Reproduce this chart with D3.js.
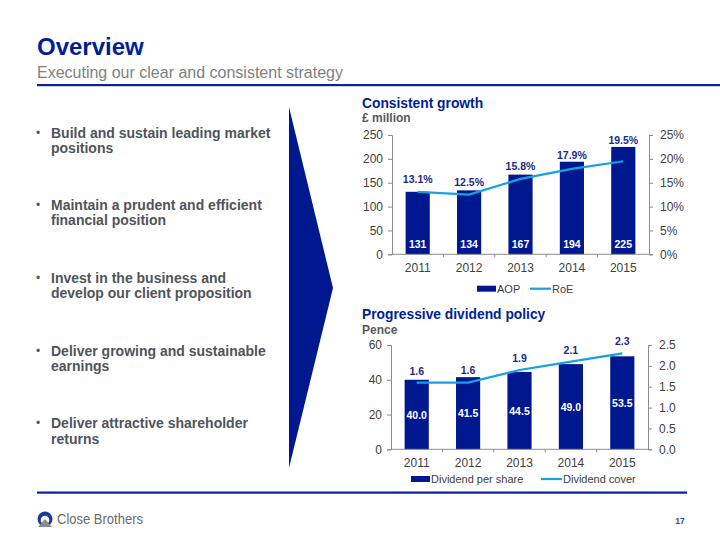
<!DOCTYPE html>
<html>
<head>
<meta charset="utf-8">
<script src="https://cdn.jsdelivr.net/npm/d3@7"></script>
<style>
  html, body { margin: 0; padding: 0; background: #fff; }
  svg { display: block; font-family: Arial, "Liberation Sans", sans-serif; }
</style>
</head>
<body>
<svg id="chart" width="720" height="540"></svg>
<script>
// ---------- data ----------
const years = ["2011", "2012", "2013", "2014", "2015"];
const aop = [131, 134, 167, 194, 225];          // £ million
const roe = [13.1, 12.5, 15.8, 17.9, 19.5];     // %
const dividendPerShare = [40.0, 41.5, 44.5, 49.0, 53.5]; // pence
const dividendCover = [1.6, 1.6, 1.9, 2.1, 2.3];
const growthLeftTicks = [0, 50, 100, 150, 200, 250];
const growthRightTicks = [0, 5, 10, 15, 20, 25];
const divLeftTicks = [0, 20, 40, 60];
const divRightTicks = [0, 0.5, 1.0, 1.5, 2.0, 2.5];
const bullets = [
  ["Build and sustain leading market", "positions"],
  ["Maintain a prudent and efficient", "financial position"],
  ["Invest in the business and", "develop our client proposition"],
  ["Deliver growing and sustainable", "earnings"],
  ["Deliver attractive shareholder", "returns"]
];

const NAVY = "#00188f";
const TITLE_BLUE = "#001e96";
const LINE_BLUE = "#17a0e2";
const LABEL_BLUE = "#1a2a8c";
const GRAY_TEXT = "#595959";
const AXIS = "#8c8c8c";

const svg = d3.select("#chart");

// ---------- header ----------
svg.append("text").attr("x", 37).attr("y", 55)
  .attr("font-size", 24).attr("font-weight", "bold").attr("fill", TITLE_BLUE)
  .text("Overview");
svg.append("text").attr("x", 37).attr("y", 78)
  .attr("font-size", 16).attr("fill", "#7f7f7f")
  .text("Executing our clear and consistent strategy");
svg.append("rect").attr("x", 37).attr("y", 84).attr("width", 683).attr("height", 2.2).attr("fill", "#0a1ea0");

// ---------- bullets ----------
const bulletBase = [137.5, 210, 282.7, 355.7, 428.3];
bullets.forEach((lines, i) => {
  svg.append("text").attr("x", 36).attr("y", bulletBase[i] - 1)
    .attr("font-size", 12).attr("fill", GRAY_TEXT).text("•");
  lines.forEach((ln, j) => {
    svg.append("text").attr("x", 51).attr("y", bulletBase[i] + j * 15.3)
      .attr("font-size", 14).attr("font-weight", "bold").attr("fill", "#50545a")
      .text(ln);
  });
});

// ---------- arrow ----------
svg.append("polygon").attr("points", "289,107 333,288 289,468").attr("fill", NAVY);

// ---------- chart builder ----------
function drawChart(cfg) {
  const g = svg.append("g");
  const x = d3.scaleBand().domain(years).range([cfg.x0, cfg.x1]).paddingInner(0.53).paddingOuter(0.265);
  const yL = d3.scaleLinear().domain(cfg.leftDomain).range([cfg.yBottom, cfg.yTop]);
  const yR = d3.scaleLinear().domain(cfg.rightDomain).range([cfg.yBottom, cfg.yTop]);

  // titles
  g.append("text").attr("x", 362).attr("y", cfg.titleY)
    .attr("font-size", 13.8).attr("font-weight", "bold").attr("fill", TITLE_BLUE).text(cfg.title);
  g.append("text").attr("x", 362).attr("y", cfg.unitY)
    .attr("font-size", 12).attr("font-weight", "bold").attr("fill", GRAY_TEXT).text(cfg.unit);

  // bars
  g.selectAll("rect.bar").data(cfg.bars).join("rect").attr("class", "bar")
    .attr("x", (d, i) => x(years[i])).attr("width", x.bandwidth())
    .attr("y", d => yL(d)).attr("height", d => cfg.yBottom - yL(d))
    .attr("fill", NAVY);

  // axes
  const left = d3.axisLeft(yL).tickValues(cfg.leftTicks).tickSize(4).tickPadding(5).tickFormat(cfg.leftFmt);
  const right = d3.axisRight(yR).tickValues(cfg.rightTicks).tickSize(4).tickPadding(7).tickFormat(cfg.rightFmt);
  [g.append("g").attr("transform", `translate(${cfg.x0},0)`).call(left),
   g.append("g").attr("transform", `translate(${cfg.x1},0)`).call(right)].forEach(a => {
    a.select(".domain").attr("stroke", AXIS);
    a.selectAll(".tick line").attr("stroke", AXIS);
    a.selectAll(".tick text").attr("font-size", 12).attr("fill", "#404040").attr("font-family", "Arial, 'Liberation Sans', sans-serif");
  });
  // x axis: baseline and ticks between categories
  g.append("line").attr("x1", cfg.x0).attr("x2", cfg.x1).attr("y1", cfg.yBottom).attr("y2", cfg.yBottom).attr("stroke", AXIS);
  const step = x.step();
  years.forEach((yr, i) => {
    if (i > 0) {
      const bx = x(yr) - x.paddingInner() * step / 2 - (x.bandwidth() * 0);
      const tx = cfg.x0 + i * (cfg.x1 - cfg.x0) / years.length;
      g.append("line").attr("x1", tx).attr("x2", tx).attr("y1", cfg.yBottom).attr("y2", cfg.yBottom + 3).attr("stroke", AXIS);
    }
    g.append("text").attr("x", x(yr) + x.bandwidth() / 2).attr("y", cfg.yBottom + 18)
      .attr("text-anchor", "middle").attr("font-size", 12).attr("fill", "#404040").text(yr);
  });

  // line
  const line = d3.line().x((d, i) => x(years[i]) + x.bandwidth() / 2).y(d => yR(d));
  g.append("path").datum(cfg.line).attr("d", line).attr("fill", "none")
    .attr("stroke", LINE_BLUE).attr("stroke-width", 2.2);

  // bar value labels
  g.selectAll("text.val").data(cfg.bars).join("text").attr("class", "val")
    .attr("x", (d, i) => x(years[i]) + x.bandwidth() / 2)
    .attr("y", d => cfg.valInside === "bottom" ? cfg.yBottom - 6 : (yL(d) + cfg.yBottom) / 2 + 4)
    .attr("text-anchor", "middle").attr("font-size", 10.5).attr("font-weight", "bold").attr("fill", "#fff")
    .text(d => cfg.valFmt(d));

  // line value labels
  g.selectAll("text.lv").data(cfg.line).join("text").attr("class", "lv")
    .attr("x", (d, i) => x(years[i]) + x.bandwidth() / 2)
    .attr("y", (d, i) => Math.min(yR(d) - cfg.lineOff, yL(cfg.bars[i]) - 7) + 4)
    .attr("text-anchor", "middle").attr("font-size", 10.5).attr("font-weight", "bold").attr("fill", LABEL_BLUE)
    .text(d => cfg.lineFmt(d));

  // legend
  const ly = cfg.legendY;
  g.append("rect").attr("x", cfg.legend.sw).attr("y", ly - 3).attr("width", 19).attr("height", 6).attr("fill", NAVY);
  g.append("text").attr("x", cfg.legend.sw + 20).attr("y", ly + 4).attr("font-size", 11).attr("fill", "#404040").text(cfg.legend.barName);
  g.append("line").attr("x1", cfg.legend.ln).attr("x2", cfg.legend.ln + 21).attr("y1", ly).attr("y2", ly)
    .attr("stroke", LINE_BLUE).attr("stroke-width", 2.2);
  g.append("text").attr("x", cfg.legend.ln + 22).attr("y", ly + 4).attr("font-size", 11).attr("fill", "#404040").text(cfg.legend.lineName);
}

drawChart({
  title: "Consistent growth", titleY: 108, unit: "£ million", unitY: 122,
  x0: 392, x1: 649, yTop: 135, yBottom: 254.3,
  leftDomain: [0, 250], rightDomain: [0, 25],
  leftTicks: growthLeftTicks, rightTicks: growthRightTicks,
  leftFmt: d => d, rightFmt: d => d + "%",
  bars: aop, line: roe, valInside: "bottom", valFmt: d => d,
  lineFmt: d => d.toFixed(1) + "%", lineOff: 13,
  legendY: 288.7, legend: { sw: 477, barName: "AOP", ln: 530, lineName: "RoE" }
});

drawChart({
  title: "Progressive dividend policy", titleY: 319, unit: "Pence", unitY: 333.5,
  x0: 391, x1: 648, yTop: 345, yBottom: 449.3,
  leftDomain: [0, 60], rightDomain: [0, 2.5],
  leftTicks: divLeftTicks, rightTicks: divRightTicks,
  leftFmt: d => d, rightFmt: d => d.toFixed(1),
  bars: dividendPerShare, line: dividendCover, valInside: "middle", valFmt: d => d.toFixed(1),
  lineFmt: d => d.toFixed(1), lineOff: 12,
  legendY: 479, legend: { sw: 411, barName: "Dividend per share", ln: 541, lineName: "Dividend cover" }
});

// ---------- footer ----------
svg.append("rect").attr("x", 37).attr("y", 491.5).attr("width", 650).attr("height", 2.2).attr("fill", "#0a1ea0");
const logo = svg.append("g").attr("transform", "translate(45,519)");
logo.append("circle").attr("r", 7.5).attr("fill", "#1a3a9c");
logo.append("circle").attr("r", 4.3).attr("cy", 1).attr("fill", "#fff");
logo.append("path").attr("d", "M-7,8 L0,0 L7,8 Z").attr("fill", "#8a8a8a");
svg.append("text").attr("x", 57).attr("y", 524).attr("font-size", 14).attr("fill", "#6b6b6b")
  .attr("textLength", 86).attr("lengthAdjust", "spacingAndGlyphs").text("Close Brothers");
svg.append("text").attr("x", 680).attr("y", 524).attr("text-anchor", "middle")
  .attr("font-size", 8.5).attr("font-weight", "bold").attr("fill", "#3344aa").text("17");
</script>
</body>
</html>
